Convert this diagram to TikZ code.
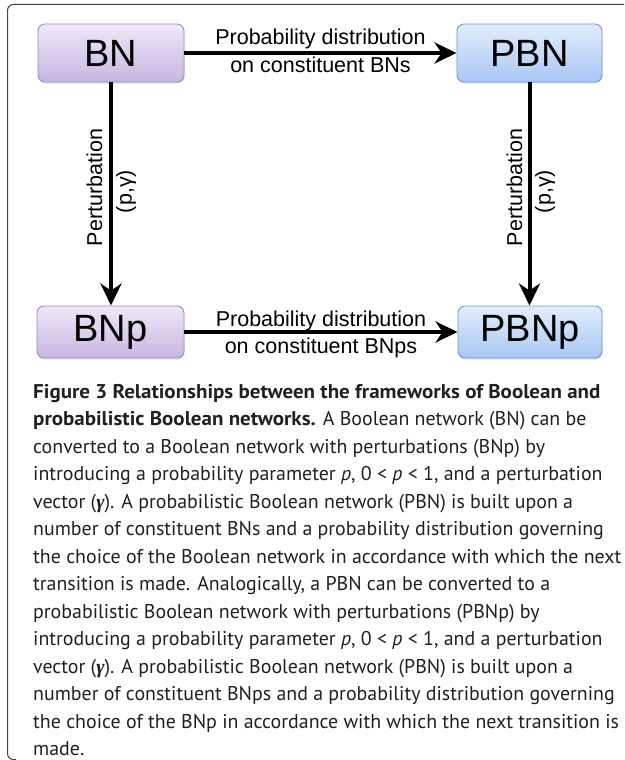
\documentclass[tikz,border=0pt]{standalone}
\usepackage{fontspec}
\setmainfont{Liberation Sans}
\newfontfamily\capfont[BoldFeatures={FakeStretch=1.055}]{PT Sans}
\newfontfamily\gammafont{Liberation Serif}
\newcommand{\bgam}{{\gammafont\bfseries\itshape γ}}
\usetikzlibrary{arrows.meta,shadows}
\definecolor{bnTop}{HTML}{EFE8F7}
\definecolor{bnBot}{HTML}{C8B5E3}
\definecolor{bnLine}{HTML}{9E88C8}
\definecolor{pbTop}{HTML}{E2EDFC}
\definecolor{pbBot}{HTML}{A8C7F4}
\definecolor{pbLine}{HTML}{6A98D8}
\definecolor{frameGray}{HTML}{444444}
\definecolor{capText}{HTML}{231F20}
\tikzset{
  netbox/.style={rounded corners=7pt, line width=0.9pt, inner sep=0pt,
    font=\fontsize{38}{40}\selectfont,
    drop shadow={opacity=0.22, shadow xshift=0.6pt, shadow yshift=-1.6pt}},
  purplebox/.style={netbox, draw=bnLine, top color=bnTop, bottom color=bnBot},
  bluebox/.style={netbox, draw=pbLine, top color=pbTop, bottom color=pbBot},
  conn/.style={line width=4pt, -{Stealth[length=22pt, width=21pt, inset=7pt]}},
  lbl/.style={font=\fontsize{21.5}{24}\selectfont, inner sep=0pt, anchor=base},
  capline/.style={font=\capfont\fontsize{19.9}{26}\selectfont, text=capText, inner sep=0pt, anchor=base west}
}
\begin{document}
\begin{tikzpicture}[x=1pt,y=-1pt]
\useasboundingbox (0,0) rectangle (624,760);
\clip (0,0) rectangle (624,760);
% frame
\draw[frameGray, line width=1pt, rounded corners=6pt] (630,4.5) -- (7.5,4.5) -- (7.5,759.5) -- (16,759.5);
% boxes
\node[purplebox, minimum width=146pt, minimum height=58pt] (BN) at (111,53) {BN};
\node[bluebox, minimum width=145pt, minimum height=58pt] (PBN) at (529.5,53) {PBN};
\node[purplebox, minimum width=147pt, minimum height=52pt] (BNp) at (110.5,332) {BNp};
\node[bluebox, minimum width=144pt, minimum height=52pt] (PBNp) at (530,332) {PBNp};
% connectors
\draw[conn] (BN.east) -- node[lbl, yshift=8pt] {Probability distribution}
  node[lbl, yshift=-20pt] {on constituent BNs} (PBN.west);
\draw[conn] (BNp.east) -- node[lbl, yshift=6pt] {Probability distribution}
  node[lbl, yshift=-21pt] {on constituent BNps} (PBNp.west);
\draw[conn] (BN.south -| BN.center) -- node[lbl, xshift=-9pt, yshift=6.5pt, rotate=90] {Perturbation}
  node[lbl, xshift=20.7pt, yshift=2.5pt, rotate=90] {(p,γ)} (BNp.north -| BN.center);
\draw[conn] (PBN.south) -- node[lbl, xshift=-7.5pt, yshift=6.5pt, rotate=90] {Perturbation}
  node[lbl, xshift=21.2pt, yshift=2.5pt, rotate=90] {(p,γ)} (PBN.south |- PBNp.north);
% caption
\node[capline] (c1) at (33,398) {\textbf{Figure 3 Relationships between the frameworks of Boolean and}};
\node[capline] (c2) at (33,425.5) {\textbf{probabilistic Boolean networks.} A Boolean network (BN) can be};
\node[capline] (c3) at (33,453) {converted to a Boolean network with perturbations (BNp) by};
\node[capline] (c4) at (33,480.5) {introducing a probability parameter \textit{p}, 0 {<} \textit{p} {<} 1, and a perturbation};
\node[capline] (c5) at (33,508) {vector (\bgam). A probabilistic Boolean network (PBN) is built upon a};
\node[capline] (c6) at (33,535.5) {number of constituent BNs and a probability distribution governing};
\node[capline] (c7) at (33,563) {the choice of the Boolean network in accordance with which the next};
\node[capline] (c8) at (33,590.5) {transition is made. Analogically, a PBN can be converted to a};
\node[capline] (c9) at (33,618) {probabilistic Boolean network with perturbations (PBNp) by};
\node[capline] (c10) at (33,645.5) {introducing a probability parameter \textit{p}, 0 {<} \textit{p} {<} 1, and a perturbation};
\node[capline] (c11) at (33,673) {vector (\bgam). A probabilistic Boolean network (PBN) is built upon a};
\node[capline] (c12) at (33,700.5) {number of constituent BNps and a probability distribution governing};
\node[capline] (c13) at (33,728) {the choice of the BNp in accordance with which the next transition is};
\node[capline] (c14) at (33,755.5) {made.};
\end{tikzpicture}
\end{document}
